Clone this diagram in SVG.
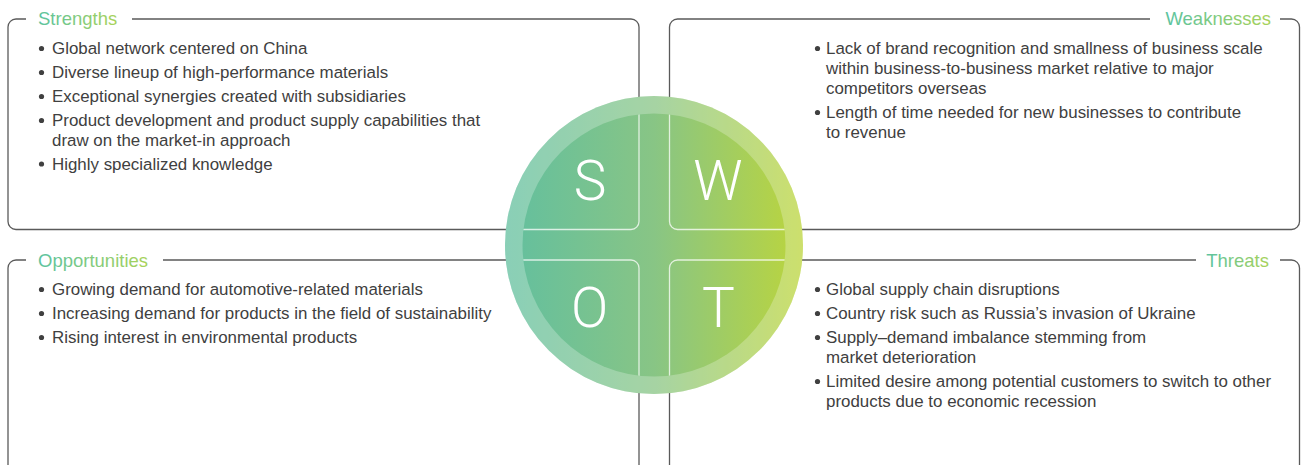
<svg xmlns="http://www.w3.org/2000/svg" width="1301" height="465" viewBox="0 0 1301 465">
<style>
.box{fill:none;stroke:#5a5a5a;stroke-width:1.3}
.boxw{fill:none;stroke:#ffffff;stroke-opacity:0.75;stroke-width:1.3}
.title{font-family:"Liberation Sans",Arial,sans-serif;font-size:18.5px;fill:url(#tg)}
.body{font-family:"Liberation Sans",Arial,sans-serif;font-size:16.9px;fill:#404040}
.dot{fill:#404040}
.letter{font-family:"Roboto","Liberation Sans",sans-serif;font-weight:300;font-size:55px;fill:#ffffff;text-anchor:middle}
</style>
<defs>
<linearGradient id="tg" x1="0" y1="0" x2="1" y2="0">
<stop offset="0" stop-color="#5cc3a0"/>
<stop offset="1" stop-color="#a8d25a"/>
</linearGradient>
<linearGradient id="cg" gradientUnits="userSpaceOnUse" x1="505" y1="0" x2="803" y2="0">
<stop offset="0" stop-color="#62bf9f"/>
<stop offset="0.5" stop-color="#88c585"/>
<stop offset="1" stop-color="#bcd53c"/>
</linearGradient>
<clipPath id="inner"><circle cx="654" cy="245" r="131.5"/></clipPath>
<path id="pS" d="M132,19 H631 A8,8 0 0 1 639,27 V221.5 A8,8 0 0 1 631,229.5 H16 A8,8 0 0 1 8,221.5 V27 A8,8 0 0 1 16,19 H26"/>
<path id="pW" d="M1150,19 H677.5 A8,8 0 0 0 669.5,27 V221.5 A8,8 0 0 0 677.5,229.5 H1291.5 A8,8 0 0 0 1299.5,221.5 V27 A8,8 0 0 0 1291.5,19 H1280"/>
<path id="pO" d="M163,260 H631 A8,8 0 0 1 639,268 V470 M26,260 H16 A8,8 0 0 0 8,268 V470"/>
<path id="pT" d="M1196,260 H677.5 A8,8 0 0 0 669.5,268 V470 M1280,260 H1291.5 A8,8 0 0 1 1299.5,268 V470"/>
</defs>
<rect width="1301" height="465" fill="#ffffff"/>

<g id="strengths">
<use href="#pS" class="box"/>
<text class="title" x="38" y="25">Strengths</text>
<circle class="dot" cx="41.5" cy="48.5" r="2.6"/><text class="body" x="52" y="54">Global network centered on China</text>
<circle class="dot" cx="41.5" cy="72.5" r="2.6"/><text class="body" x="52" y="78">Diverse lineup of high-performance materials</text>
<circle class="dot" cx="41.5" cy="96.5" r="2.6"/><text class="body" x="52" y="102">Exceptional synergies created with subsidiaries</text>
<circle class="dot" cx="41.5" cy="120.5" r="2.6"/><text class="body" x="52" y="126">Product development and product supply capabilities that</text>
<text class="body" x="52" y="146">draw on the market-in approach</text>
<circle class="dot" cx="41.5" cy="164" r="2.6"/><text class="body" x="52" y="169.5">Highly specialized knowledge</text>
</g>

<g id="weaknesses">
<use href="#pW" class="box"/>
<text class="title" x="1271" y="25" text-anchor="end">Weaknesses</text>
<circle class="dot" cx="817.5" cy="48.5" r="2.6"/><text class="body" x="826" y="54">Lack of brand recognition and smallness of business scale</text>
<text class="body" x="826" y="74">within business-to-business market relative to major</text>
<text class="body" x="826" y="94">competitors overseas</text>
<circle class="dot" cx="817.5" cy="112.5" r="2.6"/><text class="body" x="826" y="118">Length of time needed for new businesses to contribute</text>
<text class="body" x="826" y="138">to revenue</text>
</g>

<g id="opportunities">
<use href="#pO" class="box"/>
<text class="title" x="38" y="266.5">Opportunities</text>
<circle class="dot" cx="41.5" cy="289.5" r="2.6"/><text class="body" x="52" y="295">Growing demand for automotive-related materials</text>
<circle class="dot" cx="41.5" cy="313.5" r="2.6"/><text class="body" x="52" y="319">Increasing demand for products in the field of sustainability</text>
<circle class="dot" cx="41.5" cy="337.5" r="2.6"/><text class="body" x="52" y="343">Rising interest in environmental products</text>
</g>

<g id="threats">
<use href="#pT" class="box"/>
<text class="title" x="1269" y="266.5" text-anchor="end">Threats</text>
<circle class="dot" cx="817.5" cy="289.5" r="2.6"/><text class="body" x="826" y="295">Global supply chain disruptions</text>
<circle class="dot" cx="817.5" cy="313.5" r="2.6"/><text class="body" x="826" y="319">Country risk such as Russia’s invasion of Ukraine</text>
<circle class="dot" cx="817.5" cy="337.5" r="2.6"/><text class="body" x="826" y="343">Supply–demand imbalance stemming from</text>
<text class="body" x="826" y="363">market deterioration</text>
<circle class="dot" cx="817.5" cy="381.5" r="2.6"/><text class="body" x="826" y="387">Limited desire among potential customers to switch to other</text>
<text class="body" x="826" y="407">products due to economic recession</text>
</g>

<g id="swot-circle">
<circle cx="654" cy="245" r="149" fill="url(#cg)"/>
<circle cx="654" cy="245" r="149" fill="#ffffff" fill-opacity="0.25"/>
<circle cx="654" cy="245" r="131.5" fill="url(#cg)"/>
<g clip-path="url(#inner)">
<use href="#pS" class="boxw"/>
<use href="#pW" class="boxw"/>
<use href="#pO" class="boxw"/>
<use href="#pT" class="boxw"/>
</g>
<text class="letter" x="590" y="200">S</text>
<text class="letter" x="718" y="200">W</text>
<text class="letter" x="589.5" y="326.5">O</text>
<text class="letter" x="718.5" y="326.5">T</text>
</g>
</svg>
